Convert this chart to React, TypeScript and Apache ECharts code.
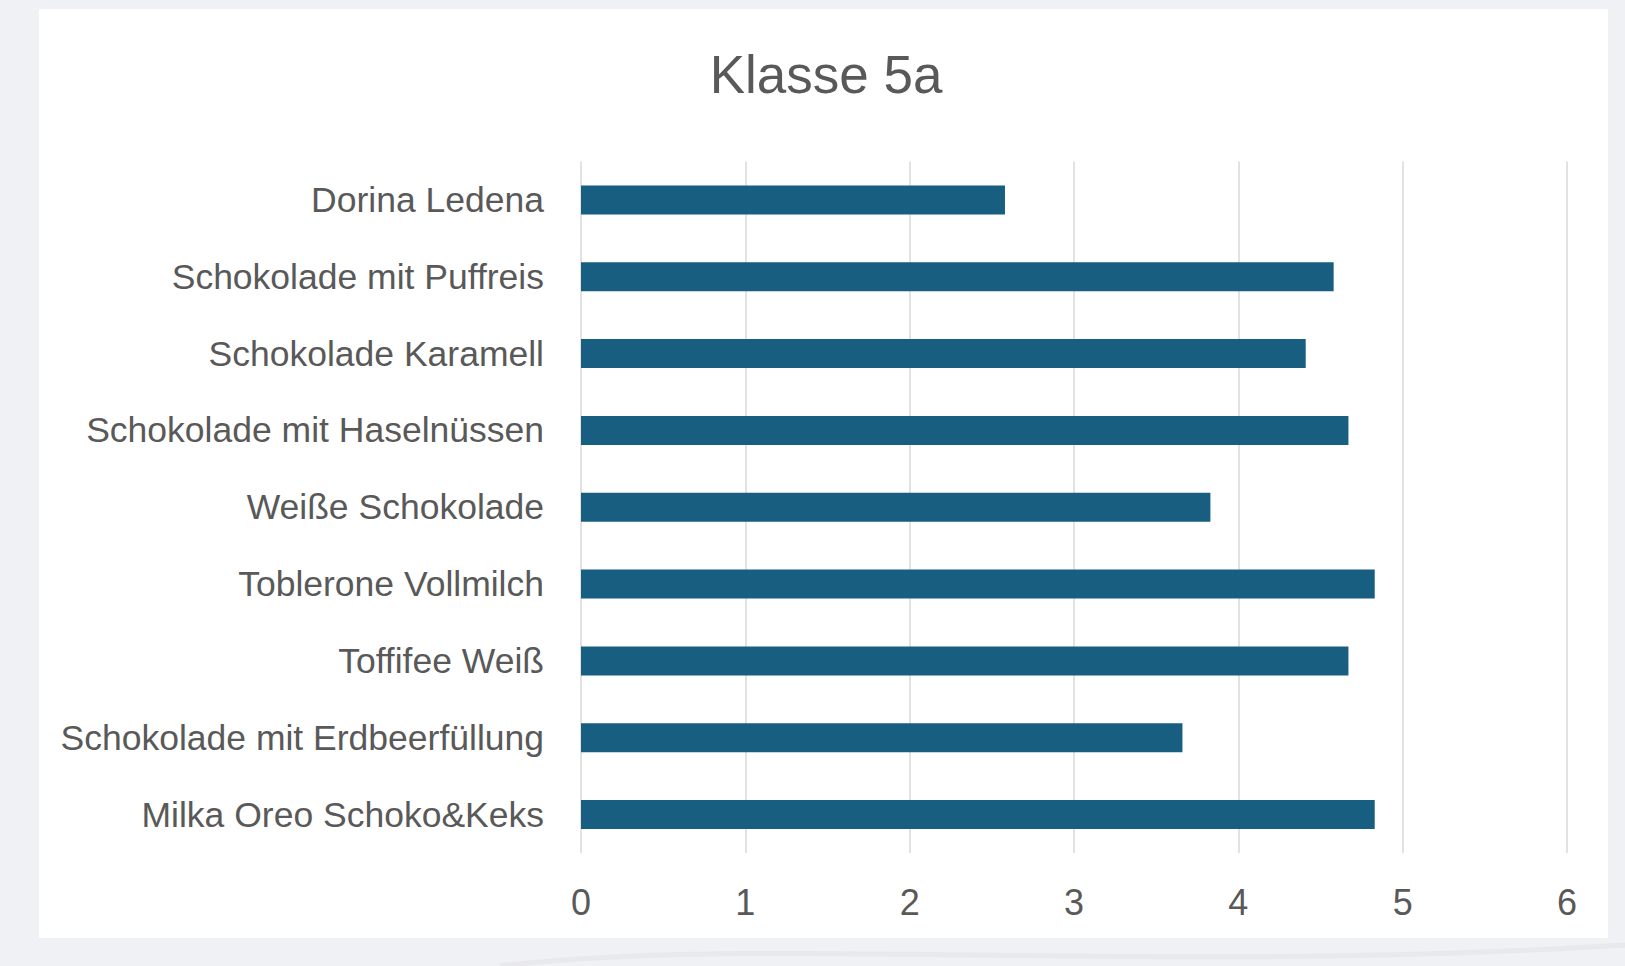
import React, { useEffect, useRef } from "react";
import * as echarts from "echarts";

const TITLE = "Klasse 5a";
const categories = [
  "Dorina Ledena",
  "Schokolade mit Puffreis",
  "Schokolade Karamell",
  "Schokolade mit Haselnüssen",
  "Weiße Schokolade",
  "Toblerone Vollmilch",
  "Toffifee Weiß",
  "Schokolade mit Erdbeerfüllung",
  "Milka Oreo Schoko&Keks",
];
const values = [2.58, 4.58, 4.41, 4.67, 3.83, 4.83, 4.67, 3.66, 4.83];
const xMin = 0;
const xMax = 6;
const xInterval = 1;

export default function App() {
  const ref = useRef<HTMLDivElement>(null);
  useEffect(() => {
    document.body.style.margin = "0";
    if (!ref.current) return;
    const chart = echarts.init(ref.current, null, { renderer: "svg" });
    const grey = "#595959";
    chart.setOption({
      animation: false,
      backgroundColor: "#eff1f4",
      graphic: [
        {
          type: "bezierCurve",
          z: -20,
          silent: true,
          shape: { x1: 500, y1: 966, x2: 1625, y2: 945, cpx1: 750, cpy1: 935, cpx2: 1150, cpy2: 975 },
          style: { stroke: "#e2e3e8", lineWidth: 5, fill: null, opacity: 0.6 },
        },
        {
          type: "rect",
          z: -10,
          silent: true,
          shape: { x: 39, y: 9, width: 1569, height: 929 },
          style: { fill: "#ffffff" },
        },
      ],
      title: {
        text: TITLE,
        left: 821,
        top: 43,
        textAlign: "center",
        textStyle: {
          fontFamily: "Liberation Sans, Arial, sans-serif",
          fontSize: 53,
          fontWeight: "normal",
          color: grey,
        },
      },
      grid: { left: 581, right: 58, top: 161.5, bottom: 113, containLabel: false },
      xAxis: {
        type: "value",
        min: xMin,
        max: xMax,
        interval: xInterval,
        axisLine: { show: false },
        axisTick: { show: false },
        splitLine: { show: true, lineStyle: { color: "#d9d9d9", width: 1.5 } },
        axisLabel: {
          margin: 31,
          fontFamily: "Liberation Sans, Arial, sans-serif",
          fontSize: 36,
          color: grey,
        },
      },
      yAxis: {
        type: "category",
        data: categories,
        inverse: true,
        axisLine: { show: false },
        axisTick: { show: false },
        axisLabel: {
          margin: 37,
          fontFamily: "Liberation Sans, Arial, sans-serif",
          fontSize: 35.5,
          color: grey,
        },
      },
      series: [
        {
          type: "bar",
          data: values,
          barWidth: 29,
          itemStyle: { color: "#185e80" },
        },
      ],
    });
    return () => chart.dispose();
  }, []);
  return <div ref={ref} style={{ width: 1625, height: 966 }} />;
}
